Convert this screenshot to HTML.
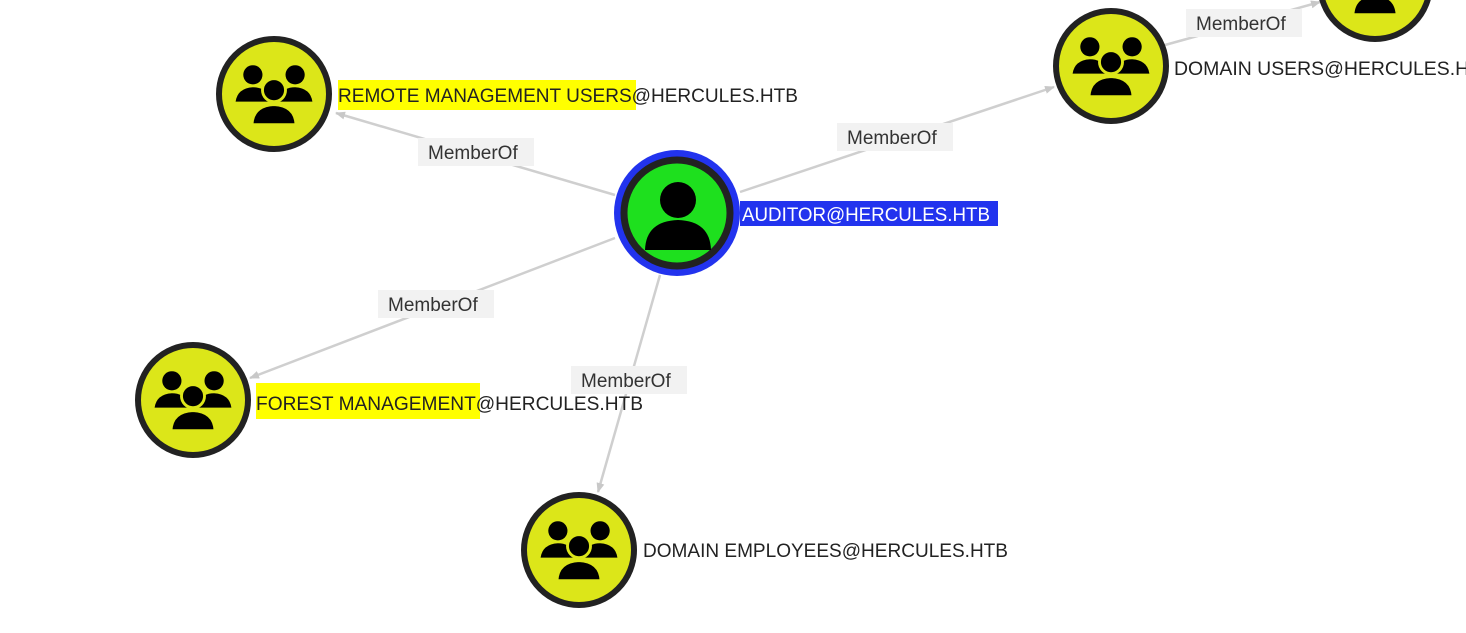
<!DOCTYPE html>
<html><head><style>
html,body{margin:0;padding:0;background:#fff;width:1466px;height:633px;overflow:hidden}
svg{display:block}
text{font-family:"Liberation Sans",sans-serif}
</style></head><body>
<svg width="1466" height="633" viewBox="0 0 1466 633">
<defs>
<marker id="ar" markerWidth="10" markerHeight="10" refX="9" refY="5" orient="auto" markerUnits="userSpaceOnUse">
<path d="M0,1 L10,5 L0,9 z" fill="#c8c8c8"/></marker>
<symbol id="grp" viewBox="0 0 100 100">
<circle cx="28" cy="30" r="10" fill="#000"/>
<circle cx="72" cy="30" r="10" fill="#000"/>
<path d="M10,58 Q12,44 28,43 Q40,43 44,52 L44,58 Z" fill="#000"/>
<path d="M90,58 Q88,44 72,43 Q60,43 56,52 L56,58 Z" fill="#000"/>
<circle cx="50" cy="46" r="12" fill="#000" stroke="#dce619" stroke-width="3"/>
<path d="M27,82 Q28,62 50,61 Q72,62 73,82 Z" fill="#000" stroke="#dce619" stroke-width="3"/>
</symbol>
</defs>
<g stroke="#cfcfcf" stroke-width="2.5" fill="none" marker-end="url(#ar)">
<line x1="615" y1="195" x2="336" y2="113"/>
<line x1="740" y1="192" x2="1054" y2="87"/>
<line x1="615" y1="238" x2="250" y2="378"/>
<line x1="660" y1="275" x2="598" y2="492"/>
<line x1="1165" y1="45" x2="1320" y2="2"/>
</g>
<g font-size="19" fill="#333">
<rect x="418" y="138" width="116" height="28" fill="#f2f2f2"/><text x="428" y="159">MemberOf</text>
<rect x="837" y="123" width="116" height="28" fill="#f2f2f2"/><text x="847" y="144">MemberOf</text>
<rect x="378" y="290" width="116" height="28" fill="#f2f2f2"/><text x="388" y="311">MemberOf</text>
<rect x="571" y="366" width="116" height="28" fill="#f2f2f2"/><text x="581" y="387">MemberOf</text>
<rect x="1186" y="9" width="116" height="28" fill="#f2f2f2"/><text x="1196" y="30">MemberOf</text>
</g>
<g>
<circle cx="274" cy="94" r="55" fill="#dce619" stroke="#222" stroke-width="6"/>
<use href="#grp" x="226" y="46" width="96" height="96"/>
<circle cx="1111" cy="66" r="55" fill="#dce619" stroke="#222" stroke-width="6"/>
<use href="#grp" x="1063" y="18" width="96" height="96"/>
<circle cx="1375" cy="-16" r="55" fill="#dce619" stroke="#222" stroke-width="6"/>
<use href="#grp" x="1327" y="-64" width="96" height="96"/>
<circle cx="193" cy="400" r="55" fill="#dce619" stroke="#222" stroke-width="6"/>
<use href="#grp" x="145" y="352" width="96" height="96"/>
<circle cx="579" cy="550" r="55" fill="#dce619" stroke="#222" stroke-width="6"/>
<use href="#grp" x="531" y="502" width="96" height="96"/>
<circle cx="677" cy="213" r="63" fill="#2233ee"/>
<circle cx="677" cy="213" r="53" fill="#1ee01e" stroke="#222" stroke-width="7"/>
<circle cx="678" cy="200" r="18" fill="#000"/>
<path d="M645,250 Q646,221 678,220 Q710,221 711,250 Z" fill="#000"/>
</g>
<rect x="338" y="80" width="298" height="30" fill="#ffff00"/>
<text x="338" y="102" font-size="19" fill="#222" textLength="460" lengthAdjust="spacingAndGlyphs">REMOTE MANAGEMENT USERS@HERCULES.HTB</text>
<rect x="740" y="201" width="258" height="25" fill="#2233ee"/>
<text x="742" y="221" font-size="19" fill="#fff" textLength="248" lengthAdjust="spacingAndGlyphs">AUDITOR@HERCULES.HTB</text>
<text x="1174" y="75" font-size="19" fill="#222" textLength="320" lengthAdjust="spacingAndGlyphs">DOMAIN USERS@HERCULES.HTB</text>
<rect x="256" y="383" width="224" height="36" fill="#ffff00"/>
<text x="256" y="410" font-size="19" fill="#222" textLength="387" lengthAdjust="spacingAndGlyphs">FOREST MANAGEMENT@HERCULES.HTB</text>
<text x="643" y="557" font-size="19" fill="#222" textLength="365" lengthAdjust="spacingAndGlyphs">DOMAIN EMPLOYEES@HERCULES.HTB</text>
</svg>
</body></html>
